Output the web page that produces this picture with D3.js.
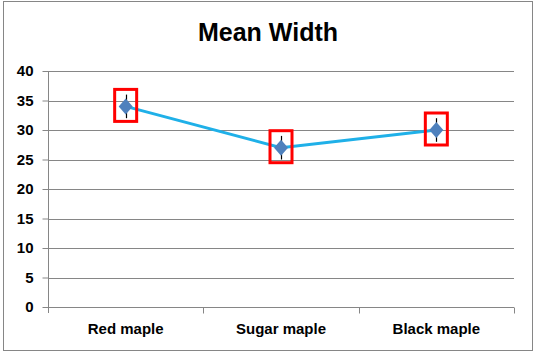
<!DOCTYPE html>
<html>
<head>
<meta charset="utf-8">
<script src="https://cdn.jsdelivr.net/npm/d3@7"></script>
<style>
  html, body { margin: 0; padding: 0; background: #fff; }
  svg { display: block; }
</style>
</head>
<body>
<svg id="chart" width="536" height="354"></svg>
<script>
const categories = ["Red maple", "Sugar maple", "Black maple"];
const meanWidth = [34, 27, 30];
const errorAmount = [2, 2, 2];
const yTicks = [0, 5, 10, 15, 20, 25, 30, 35, 40];
const title = "Mean Width";

const svg = d3.select("#chart");
const W = 536, H = 354;
const margin = { left: 48, right: 22, top: 71, bottom: 47 };
const plotW = W - margin.left - margin.right;
const plotH = H - margin.top - margin.bottom;
const font = "'Liberation Sans', Arial, sans-serif";
const gridColor = "#868686";

// outer frame
svg.append("rect")
  .attr("x", 3.5).attr("y", 1.5)
  .attr("width", 529).attr("height", 349)
  .attr("fill", "#fff").attr("stroke", gridColor).attr("stroke-width", 1);

// title
svg.append("text")
  .attr("x", 268).attr("y", 41)
  .attr("text-anchor", "middle")
  .attr("font-family", font).attr("font-weight", "bold")
  .attr("font-size", 25).attr("fill", "#000")
  .text(title);

const g = svg.append("g").attr("transform", `translate(${margin.left},${margin.top})`);

const x = d3.scaleBand().domain(categories).range([0, plotW]).padding(0);
const y = d3.scaleLinear().domain([0, 40]).range([plotH, 0]);

// gridlines
g.append("g")
  .selectAll("line")
  .data(yTicks.filter(d => d > 0))
  .join("line")
  .attr("x1", 0).attr("x2", plotW)
  .attr("y1", d => Math.round(y(d)) + 0.5).attr("y2", d => Math.round(y(d)) + 0.5)
  .attr("stroke", gridColor).attr("stroke-width", 1);

// y axis
const yAxis = g.append("g")
  .attr("transform", "translate(0.5,0)")
  .call(d3.axisLeft(y).tickValues(yTicks).tickSize(6).tickPadding(9));
yAxis.select(".domain").attr("stroke", gridColor).attr("d", `M0,${plotH + 6}V0`);
yAxis.selectAll(".tick line").attr("stroke", gridColor);
yAxis.selectAll(".tick text")
  .attr("font-family", font).attr("font-weight", "bold")
  .attr("font-size", 15).attr("fill", "#000");

// x axis
const xAxis = g.append("g")
  .attr("transform", `translate(0,${Math.round(plotH) + 0.5})`)
  .call(d3.axisBottom(x).tickSize(0).tickPadding(16));
xAxis.select(".domain").attr("stroke", gridColor).attr("d", `M0,0H${plotW}`);
xAxis.selectAll(".tick text")
  .attr("font-family", font).attr("font-weight", "bold")
  .attr("font-size", 15).attr("fill", "#000");
// boundary ticks between categories
xAxis.append("g")
  .selectAll("line")
  .data(categories.map((c, i) => i + 1))
  .join("line")
  .attr("x1", i => Math.round(x.step() * i) + 0.5).attr("x2", i => Math.round(x.step() * i) + 0.5)
  .attr("y1", 0).attr("y2", 6)
  .attr("stroke", gridColor);

const cx = c => x(c) + x.bandwidth() / 2;
const data = categories.map((c, i) => ({ c, v: meanWidth[i], e: errorAmount[i] }));

// line
g.append("path")
  .datum(data)
  .attr("fill", "none")
  .attr("stroke", "#1FB0E8")
  .attr("stroke-width", 3)
  .attr("d", d3.line().x(d => cx(d.c)).y(d => y(d.v)));

// error bars
g.append("g")
  .selectAll("line")
  .data(data)
  .join("line")
  .attr("x1", d => Math.round(cx(d.c)) + 0.5).attr("x2", d => Math.round(cx(d.c)) + 0.5)
  .attr("y1", d => y(d.v + d.e)).attr("y2", d => y(d.v - d.e))
  .attr("stroke", "#000").attr("stroke-width", 1.2);

// diamonds
g.append("g")
  .selectAll("path")
  .data(data)
  .join("path")
  .attr("transform", d => `translate(${cx(d.c)},${y(d.v)})`)
  .attr("d", "M0,-8L7,0L0,8L-7,0Z")
  .attr("fill", "#4F81BD");

// red highlight boxes
g.append("g")
  .selectAll("rect")
  .data(data)
  .join("rect")
  .attr("x", d => cx(d.c) - 11)
  .attr("y", d => y(d.v) - 17)
  .attr("width", 22).attr("height", 32)
  .attr("fill", "none")
  .attr("stroke", "#FF0000").attr("stroke-width", 3);
</script>
</body>
</html>
